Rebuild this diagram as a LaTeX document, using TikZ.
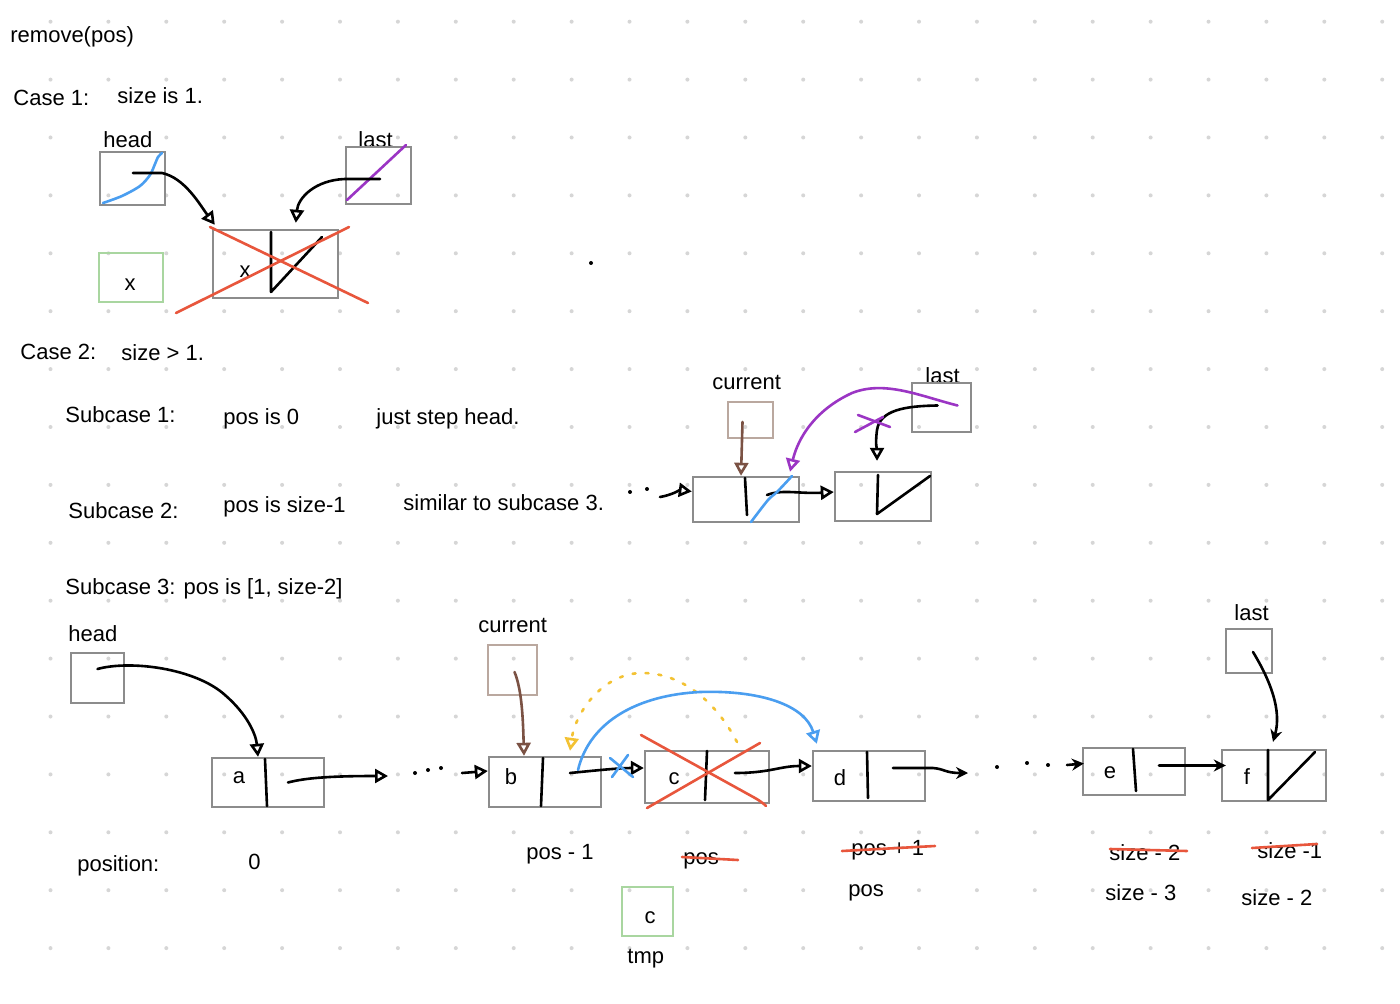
\documentclass[tikz,border=0pt]{standalone}
\usepackage{fontspec}
\setmainfont{Liberation Sans}
\usetikzlibrary{arrows.meta}

\definecolor{boxgray}{HTML}{8C8C8C}
\definecolor{tmpgreen}{HTML}{A9D6A0}
\definecolor{curbrown}{HTML}{BAA89F}
\definecolor{crossred}{HTML}{E8563C}
\definecolor{penblue}{HTML}{4A9EF0}
\definecolor{penpurple}{HTML}{9B35C4}
\definecolor{penyellow}{HTML}{F3C233}
\definecolor{penbrown}{HTML}{7B5244}
\definecolor{dotgray}{HTML}{D6D6D6}

\tikzset{
  box/.style={draw=boxgray, line width=1.2pt, inner sep=0pt},
  tmpbox/.style={box, draw=tmpgreen},
  curbox/.style={box, draw=curbrown},
  txt/.style={anchor=base west, inner sep=0pt},
  pen/.style={line width=1.3pt, line cap=round, line join=round},
  strike/.style={pen, crossred},
  opentip/.style={-{Triangle[open,length=6.5pt,width=7pt]}},
  filltip/.style={-{Stealth[length=6pt,width=6pt]}},
}

\begin{document}
\begin{tikzpicture}[x=0.5pt, y=-0.5pt, every node/.style={font=\fontsize{11}{13}\selectfont}]
	\useasboundingbox[fill=white] (0,0) rectangle (1400,1004);
	% dot grid
	\foreach \i in {0,...,23}
		\foreach \j in {0,...,16}
			\fill[dotgray] ({50.5+57.9*\i},{21.7+57.9*\j}) circle (1pt);

	\node[txt] (title) at (10,43) {remove(pos)};

	% Case 1
	\node[txt] (case1) at (13,106) {Case 1:};
	\node[txt] (case1t) at (117,104) {size is 1.};
	\node[txt] (head1l) at (103,148) {head};
	\node[txt] (last1l) at (358,148) {last};
	\node[box, minimum width=32.5pt, minimum height=26.5pt] (head1) at (132.5,178.5) {};
	\node[box, minimum width=32.5pt, minimum height=28.5pt] (last1) at (378.5,175.5) {};
	\node[tmpbox, minimum width=32pt, minimum height=24.5pt] (tmp1) at (131,277.5) {};
	\node (tmp1v) at (130,285) {x};
	\node[box, minimum width=62.5pt, minimum height=34pt] (only) at (275.5,264) {};
	\node (onlyv) at (245,272) {x};
	\draw[pen] (271,232) -- (271,292) -- (322,237);
	\draw[pen, penblue] plot[smooth] coordinates {(103,203) (122,196) (140,186) (150,175) (155,164) (158,157) (162,153)};
	\draw[pen, penpurple] (347,200) -- (376,173) -- (406,145);
	\coordinate (head1p) at (133,173);
	\coordinate (last1p) at (380,179);
	\draw[pen, opentip] (head1p) -- (162,173) .. controls (185,178) and (200,205) .. ([shift={(3,-4)}]only.north west);
	\draw[pen, opentip] (last1p) -- (345,179) .. controls (315,180) and (298,198) .. ([shift={(84,-6)}]only.north west);
	\draw[strike] (210,227) -- (368,303);
	\draw[strike] (176,313) -- (349,227);
	\fill (591,263) circle (1pt);

	% Case 2
	\node[txt] (case2) at (20,360) {Case 2:};
	\node[txt] (case2t) at (121,361) {size > 1.};
	\node[txt] (sub1) at (65,423) {Subcase 1:};
	\node[txt] (sub1a) at (223,425) {pos is 0};
	\node[txt] (sub1b) at (376,425) {just step head.};
	\node[txt] (sub2) at (68,518) {Subcase 2:};
	\node[txt] (sub2a) at (223,512) {pos is size-1};
	\node[txt] (sub2b) at (403,510) {similar to subcase 3.};

	\node[txt] (cur2l) at (712,390) {current};
	\node[txt] (last2l) at (925,384) {last};
	\node[curbox, minimum width=22.5pt, minimum height=18pt] (cur2) at (750.5,420) {};
	\node[box, minimum width=29.5pt, minimum height=24.5pt] (last2) at (941.5,407.5) {};
	\node[box, minimum width=53pt, minimum height=22.5pt] (prev2) at (746,499.5) {};
	\node[box, minimum width=48pt, minimum height=24.5pt] (end2) at (883,496.5) {};
	\draw[pen] (745,478) -- (747,515);
	\draw[pen] (878,475) -- (877,514) -- (930,476);
	\fill (630,492) circle (1pt);
	\fill (647,489) circle (1pt);
	\coordinate (in2) at (660,497);
	\draw[pen, opentip] (in2) .. controls (672,495) and (680,490) .. ([shift={(0,-8)}]prev2.west);
	\draw[pen, penbrown, opentip] ([shift={(-8,2)}]cur2.center) -- ([shift={(-5,0)}]prev2.north);
	\draw[pen, opentip] ([shift={(21,-4.5)}]prev2.center) .. controls (782,489) and (800,494) .. ([shift={(0,-4.5)}]end2.west);
	\draw[pen, penblue] plot[smooth] coordinates {(751,522) (768,500) (777,492) (792,476)};
	\draw[pen, opentip] ([shift={(-4,-2)}]last2.center) .. controls (905,406) and (880,410) .. (877,430) .. controls (875,445) and (877,450) .. ([shift={(-6,-10)}]end2.north);
	\draw[pen, penpurple] (858,415) -- (890,427);
	\draw[pen, penpurple] (855,432) -- (883,417);
	\draw[pen, penpurple, opentip] ([shift={(16,-2)}]last2.center) .. controls (920,396) and (885,380) .. (852,393) .. controls (815,410) and (798,438) .. ([shift={(44,-4)}]prev2.north);

	% Subcase 3
	\node[txt] (sub3) at (65,594) {Subcase 3: pos is [1, size-2]};
	\node[txt] (head3l) at (68,641) {head};
	\node[txt] (cur3l) at (478,632) {current};
	\node[txt] (last3l) at (1234,620) {last};
	\node[box, minimum width=26.5pt, minimum height=25pt] (head3) at (97.5,678) {};
	\node[curbox, minimum width=24.5pt, minimum height=25pt] (cur3) at (512.5,670) {};
	\node[box, minimum width=23pt, minimum height=22pt] (last3) at (1249,651) {};

	\node[box, minimum width=56pt, minimum height=24.5pt] (na) at (268,782.5) {};
	\node[box, minimum width=56pt, minimum height=25pt] (nb) at (545,782) {};
	\node[box, minimum width=62pt, minimum height=26pt] (nc) at (707,777) {};
	\node[box, minimum width=56pt, minimum height=25pt] (nd) at (869,776) {};
	\node[box, minimum width=51pt, minimum height=23.5pt] (ne) at (1134,771.5) {};
	\node[box, minimum width=52pt, minimum height=25.5pt] (nf) at (1274,775.5) {};
	\node (va) at (239,778) {a};
	\node (vb) at (511,777) {b};
	\node (vc) at (674,779) {c};
	\node (vd) at (840,778) {d};
	\node (ve) at (1110,773) {e};
	\node (vf) at (1247,777) {f};
	\draw[pen] (265,759) -- (267,806);
	\draw[pen] (543,758) -- (541,806);
	\draw[pen] (707,751) -- (705,800);
	\draw[pen] (867,752) -- (868,798);
	\draw[pen] (1133,749) -- (1136,791);
	\draw[pen] (1268,750) -- (1268,800) -- (1315,752);

	\draw[pen, opentip] ([shift={(0,-9)}]head3.center) .. controls (130,660) and (195,668) .. (225,695) .. controls (248,715) and (256,735) .. ([shift={(-10,0)}]na.north);
	\coordinate (aout) at (388,776);
	\draw[pen, opentip] ([shift={(20,0)}]na.center) .. controls (305,778) and (330,776) .. (aout);
	\foreach \p in {(415,773),(428,770),(441,768)}
		\fill \p circle (1pt);
	\coordinate (bin) at (462,773);
	\draw[pen, opentip] (bin) -- ([shift={(0,-11)}]nb.west);
	\draw[pen, penbrown, opentip] ([shift={(2,2)}]cur3.center) .. controls (522,690) and (523,720) .. ([shift={(-21,0)}]nb.north);
	\draw[pen, penyellow, dash pattern=on 1.5pt off 5pt, opentip] ([shift={(30,-35)}]nc.center) .. controls (715,700) and (680,672) .. (640,673) .. controls (600,675) and (575,715) .. ([shift={(25,-5)}]nb.north);
	\draw[pen, penblue, opentip] ([shift={(33,-12)}]nb.center) .. controls (590,720) and (640,695) .. (700,692) .. controls (760,690) and (805,705) .. ([shift={(5,-6)}]nd.north west);
	\draw[pen, opentip] ([shift={(25,-9)}]nb.center) .. controls (600,770) and (620,768) .. ([shift={(0,-9)}]nc.west);
	\draw[pen, penblue] (610,758) -- (633,777);
	\draw[pen, penblue] (612,777) -- (628,755);
	\draw[strike] (641,735) -- (755,798) .. controls (762,802) and (765,805) .. (766,806);
	\draw[strike] (647,808) -- (760,743);
	\draw[pen, opentip] ([shift={(28,-4)}]nc.center) .. controls (770,773) and (780,766) .. ([shift={(0,-10)}]nd.west);
	\coordinate (dout) at (968,773);
	\draw[pen, filltip] ([shift={(24,-8)}]nd.center) -- (933,768) .. controls (945,769) and (945,773) .. (dout);
	\foreach \p in {(997,767),(1027,763),(1048,765)}
		\fill \p circle (1pt);
	\coordinate (ein) at (1067,765);
	\draw[pen, filltip] (ein) -- ([shift={(2,-8)}]ne.west);
	\draw[pen, filltip] ([shift={(25,-6)}]ne.center) -- ([shift={(5,-10)}]nf.west);
	\draw[pen, filltip] ([shift={(4,1)}]last3.center) .. controls (1270,680) and (1282,710) .. ([shift={(-1,-7)}]nf.north);

	% positions
	\node[txt] (posl) at (77,871) {position:};
	\node[txt] (pos0) at (248,869) {0};
	\node[txt] (posb) at (526,859) {pos - 1};
	\node[txt] (posc) at (683,864) {pos};
	\node[txt] (posd) at (851,855) {pos + 1};
	\node[txt] (posd2) at (848,896) {pos};
	\node[txt] (pose) at (1109,860) {size - 2};
	\node[txt] (pose2) at (1105,900) {size - 3};
	\node[txt] (posf) at (1257,858) {size -1};
	\node[txt] (posf2) at (1241,905) {size - 2};
	\draw[strike] (682,857) -- (738,860);
	\draw[strike] (842,851) -- (935,846);
	\draw[strike] (1110,849) -- (1187,851);
	\draw[strike] (1252,848) -- (1317,844);

	\node[tmpbox, minimum width=25.5pt, minimum height=24.5pt] (tmp3) at (647.5,911.5) {};
	\node (tmp3v) at (650,918) {c};
	\node[txt] (tmp3l) at (627,963) {tmp};
\end{tikzpicture}
\end{document}
